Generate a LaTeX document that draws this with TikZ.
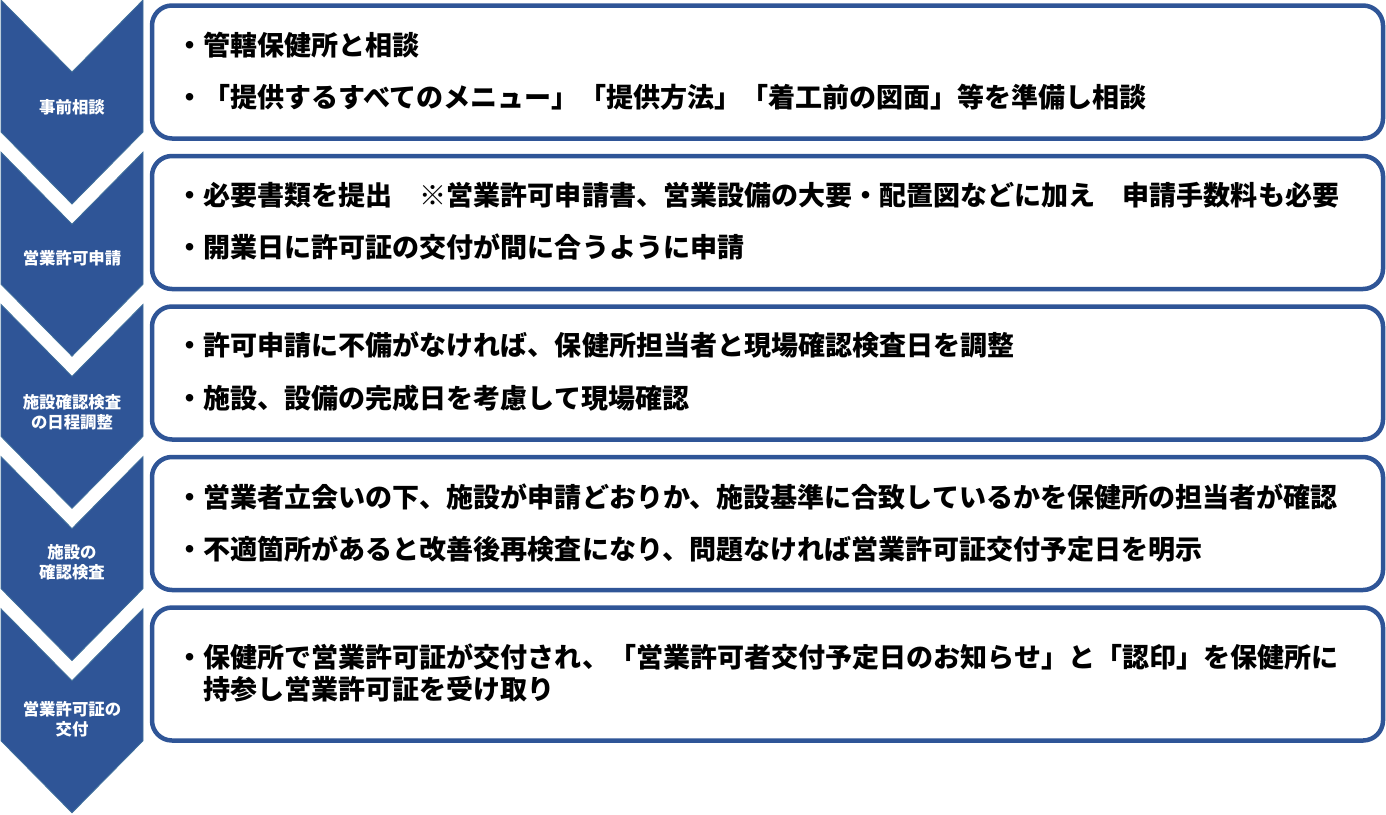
\documentclass[tikz,border=0pt]{standalone}
\usepackage{fontspec}
\setmainfont{Noto Sans CJK JP}
\definecolor{navy}{HTML}{2F5597}
\definecolor{edgeblue}{HTML}{41719C}
\begin{document}
\begin{tikzpicture}[x=0.5pt,y=-0.5pt,
  chev/.style={fill=navy,draw=edgeblue,line width=0.4pt},
  panel/.style={draw=navy,line width=2.25pt,rounded corners=10pt,fill=white},
  steplabel/.style={text=white,font=\bfseries\fontsize{8.2pt}{10.2pt}\selectfont,align=center,inner sep=0pt},
  item/.style={anchor=west,font=\bfseries\fontsize{13.52pt}{16pt}\selectfont,inner sep=0pt}]
\useasboundingbox (0,0) rectangle (1386,814);
% chevrons
\foreach \t in {0,152.2,304.4,456.6,608.8}{
  \path[chev] (1,\t) -- (72,\t+72) -- (143,\t) -- (143,\t+132) -- (72,\t+204) -- (1,\t+132) -- cycle;
}
\node[steplabel] (s1) at (72,107) {事前相談};
\node[steplabel] (s2) at (72,258) {営業許可申請};
\node[steplabel] (s3) at (72,412) {施設確認検査\\の日程調整};
\node[steplabel] (s4) at (72,562) {施設の\\確認検査};
\node[steplabel] (s5) at (72,719) {営業許可証の\\交付};
% panels
\foreach \i in {0,...,4}{
  \path[panel] (152,5.5+150.5*\i) rectangle (1383,138.5+150.5*\i);
}
\node[item] (t1a) at (176,45) {・管轄保健所と相談};
\node[item] (t1b) at (176,97) {・「提供するすべてのメニュー」「提供方法」「着工前の図面」等を準備し相談};
\node[item] (t2a) at (176,195) {・必要書類を提出　※営業許可申請書、営業設備の大要・配置図などに加え　申請手数料も必要};
\node[item] (t2b) at (176,247) {・開業日に許可証の交付が間に合うように申請};
\node[item] (t3a) at (176,345) {・許可申請に不備がなければ、保健所担当者と現場確認検査日を調整};
\node[item] (t3b) at (176,398) {・施設、設備の完成日を考慮して現場確認};
\node[item] (t4a) at (176,497) {・営業者立会いの下、施設が申請どおりか、施設基準に合致しているかを保健所の担当者が確認};
\node[item] (t4b) at (176,549) {・不適箇所があると改善後再検査になり、問題なければ営業許可証交付予定日を明示};
\node[item] (t5a) at (176,657) {・保健所で営業許可証が交付され、「営業許可者交付予定日のお知らせ」と「認印」を保健所に};
\node[item] (t5b) at (203,689) {持参し営業許可証を受け取り};
\end{tikzpicture}
\end{document}
